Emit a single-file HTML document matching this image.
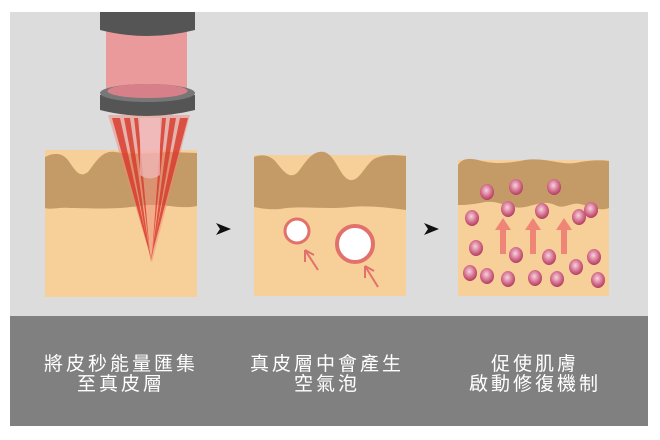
<!DOCTYPE html>
<html><head><meta charset="utf-8"><style>
html,body{margin:0;padding:0;background:#fff;width:660px;height:440px;overflow:hidden}
.t{position:absolute;color:#fff;font-family:"Liberation Sans","Noto Sans CJK TC",sans-serif;font-size:19px;letter-spacing:3px;text-align:center;line-height:20px;width:220px}
</style></head><body>
<svg width="660" height="440" style="position:absolute;left:0;top:0">
<defs>
<radialGradient id="cg" cx="0.45" cy="0.4" r="0.6"><stop offset="0" stop-color="#f6d3e0"/><stop offset="0.6" stop-color="#d6708e"/><stop offset="1" stop-color="#b03d5f"/></radialGradient>
</defs>
<rect x="10" y="12" width="638" height="304" fill="#dcdcdc"/>
<rect x="10" y="316" width="638" height="110" fill="#808080"/>
<!-- panel 1 -->
<rect x="45" y="150" width="152" height="147" fill="#f7cf98"/>
<path d="M45,157 C55,152 62,153 68,160 C76,172 80,178 88,172 C96,162 102,150 115,152 C135,155 150,153 170,152 L197,153 L197,206 C180,210 160,202 140,206 C110,210 85,208 70,208 C60,207 50,210 45,208 Z" fill="#c49a67"/>
<!-- beam -->
<polygon points="108,115 190,115 152,262" fill="#f08a7c" opacity="0.5"/>
<g fill="#d8382a" opacity="0.8">
<polygon points="112,118 120,118 152,262"/><polygon points="124,118 130,118 151,262"/>
<polygon points="134,118 138,118 150,255"/><polygon points="162,118 166,118 152,255"/>
<polygon points="170,118 176,118 151,262"/><polygon points="180,118 188,118 150,262"/>
</g>
<path d="M140,118 L160,118 L160,175 Q150,182 140,175 Z" fill="#f4bcc0" opacity="0.7"/>
<!-- laser head -->
<rect x="106" y="30" width="81" height="60" fill="#ea9a9a"/>
<path d="M100,12 L195,12 L195,30 Q147,42 100,30 Z" fill="#555"/>
<path d="M100,95 L195,95 L195,110 Q147,122 100,110 Z" fill="#555"/>
<ellipse cx="147.5" cy="93" rx="47.5" ry="9" fill="#777"/>
<ellipse cx="147.5" cy="91" rx="40" ry="7" fill="#d8808a"/>
<polygon points="216,223 231,229 216,235 220,229" fill="#111"/>
<polygon points="424,223 439,229 424,235 428,229" fill="#111"/>
<!-- panel 2 -->
<rect x="254" y="155" width="152" height="141" fill="#f7cf98"/>
<path d="M254,157 C262,154 270,155 276,162 C284,172 290,180 298,172 C306,162 312,150 324,152 C336,155 340,178 350,180 C360,182 366,162 376,158 C386,154 395,155 406,156 L406,210 C390,208 370,205 350,207 C325,210 300,205 280,209 C268,210 260,208 254,207 Z" fill="#c49a67"/>
<circle cx="297" cy="231" r="12" fill="#fff" stroke="#e2716c" stroke-width="3"/>
<circle cx="355" cy="244" r="18" fill="#fff" stroke="#e2716c" stroke-width="4"/>
<g stroke="#e2716c" stroke-width="2" fill="none">
<path d="M318,270 L305,250 M305,250 L305,262 M305,250 L314,255"/>
<path d="M378,287 L365,266 M365,266 L365,278 M365,266 L374,271"/>
</g>
<!-- panel 3 -->
<rect x="458" y="160" width="151" height="136" fill="#f7cf98"/>
<path d="M458,165 C462,158 470,158 478,160 C495,165 510,163 525,160 C545,157 560,165 575,163 C590,160 600,160 609,161 L609,208 C600,212 590,206 580,204 C570,202 565,210 555,205 C545,200 535,205 525,207 C510,210 500,200 485,202 C475,204 468,205 458,205 Z" fill="#c49a67"/>
<g fill="#ee8577">
<polygon points="503,218 511,230 506,230 506,254 500,254 500,230 495,230"/>
<polygon points="533,218 541,230 536,230 536,254 530,254 530,230 525,230"/>
<polygon points="564,218 572,230 567,230 567,254 561,254 561,230 556,230"/>
</g>
<g fill="url(#cg)">
<ellipse cx="487" cy="192" rx="7" ry="8"/><ellipse cx="516" cy="187" rx="7" ry="8"/><ellipse cx="554" cy="187" rx="7" ry="8"/>
<ellipse cx="472" cy="218" rx="7" ry="8"/><ellipse cx="508" cy="209" rx="7" ry="8"/><ellipse cx="542" cy="211" rx="7" ry="8"/>
<ellipse cx="579" cy="217" rx="7" ry="8"/><ellipse cx="591" cy="210" rx="7" ry="8"/><ellipse cx="476" cy="248" rx="7" ry="8"/>
<ellipse cx="516" cy="255" rx="7" ry="8"/><ellipse cx="549" cy="257" rx="7" ry="8"/><ellipse cx="576" cy="267" rx="7" ry="8"/>
<ellipse cx="594" cy="257" rx="7" ry="8"/><ellipse cx="470" cy="273" rx="7" ry="8"/><ellipse cx="487" cy="276" rx="7" ry="8"/>
<ellipse cx="508" cy="279" rx="7" ry="8"/><ellipse cx="535" cy="278" rx="7" ry="8"/><ellipse cx="557" cy="279" rx="7" ry="8"/>
<ellipse cx="598" cy="280" rx="7" ry="8"/>
</g>
</svg>
<div class="t" style="left:11px;top:355px">將皮秒能量匯集<br>至真皮層</div>
<div class="t" style="left:217px;top:355px">真皮層中會產生<br>空氣泡</div>
<div class="t" style="left:425px;top:355px">促使肌膚<br>啟動修復機制</div>
</body></html>
